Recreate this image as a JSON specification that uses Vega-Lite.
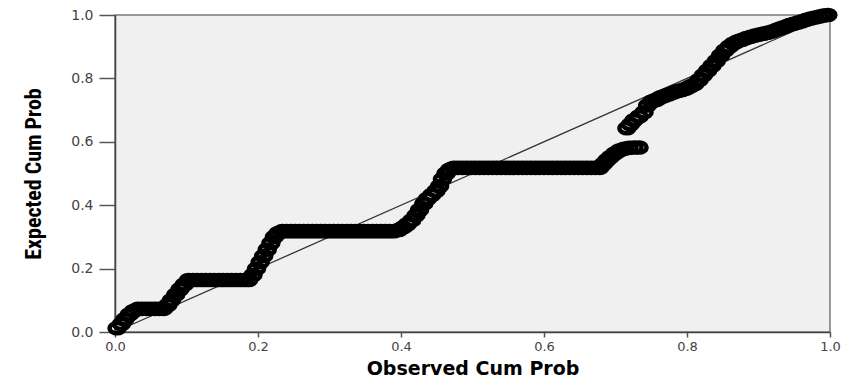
{
  "$schema": "https://vega.github.io/schema/vega-lite/v6.json",
  "width": 715,
  "height": 317,
  "autosize": {"type": "none"},
  "padding": {"left": 115, "top": 15, "right": 13, "bottom": 47},
  "background": "white",
  "config": {"view": {"fill": "#f0f0f0", "stroke": "#7a7a7a", "strokeWidth": 1.5}},
  "encoding": {
    "x": {"field": "x", "type": "quantitative", "scale": {"domain": [0, 1], "nice": false},
      "axis": {"title": "Observed Cum Prob", "values": [0, 0.2, 0.4, 0.6, 0.8, 1], "format": ".1f", "grid": false,
        "tickSize": 5, "tickColor": "#555", "tickWidth": 1.5, "domainColor": "#444", "domainWidth": 1.5,
        "labelFont": "DejaVu Sans", "labelFontSize": 13, "labelColor": "#444", "labelPadding": 3,
        "labelFlush": false, "labelOverlap": false, "labelBound": false,
        "titleFont": "DejaVu Sans", "titleFontWeight": "bold", "titleFontSize": 19, "titleColor": "#000",
        "titleBaseline": "alphabetic", "titleY": 42}},
    "y": {"field": "y", "type": "quantitative", "scale": {"domain": [0, 1], "nice": false},
      "axis": {"title": "Expected Cum Prob", "values": [0, 0.2, 0.4, 0.6, 0.8, 1], "format": ".1f", "grid": false,
        "tickSize": 16, "tickColor": "#555", "tickWidth": 1.5, "domainColor": "#444", "domainWidth": 1.5,
        "labelFont": "DejaVu Sans", "labelFontSize": 14, "labelColor": "#444", "labelPadding": 6,
        "labelFlush": false, "labelOverlap": false, "labelBound": false,
        "titleFont": "Liberation Sans Narrow, Roboto Condensed, Liberation Sans", "titleFontWeight": "bold", "titleFontSize": 22, "titleColor": "#000",
        "titleAngle": -90, "titleBaseline": "bottom", "titleX": -70}}
  },
  "layer": [
    {
      "data": {"values": [{"x": 0, "y": 0}, {"x": 1, "y": 1}]},
      "mark": {"type": "line", "color": "#333", "strokeWidth": 1.3}
    },
    {
      "data": {"values": [
        {"x": 0.003, "y": 0.012}, {"x": 0.009, "y": 0.025}, {"x": 0.014, "y": 0.04}, {"x": 0.02, "y": 0.055}, {"x": 0.026, "y": 0.066},
        {"x": 0.032, "y": 0.073}, {"x": 0.038, "y": 0.073}, {"x": 0.044, "y": 0.073}, {"x": 0.05, "y": 0.073}, {"x": 0.056, "y": 0.073}, {"x": 0.062, "y": 0.073}, {"x": 0.068, "y": 0.073},
        {"x": 0.074, "y": 0.085}, {"x": 0.079, "y": 0.1}, {"x": 0.085, "y": 0.118}, {"x": 0.091, "y": 0.135}, {"x": 0.097, "y": 0.15},
        {"x": 0.103, "y": 0.164}, {"x": 0.109, "y": 0.164}, {"x": 0.115, "y": 0.164}, {"x": 0.121, "y": 0.164}, {"x": 0.127, "y": 0.164}, {"x": 0.133, "y": 0.164}, {"x": 0.139, "y": 0.164}, {"x": 0.145, "y": 0.164}, {"x": 0.151, "y": 0.164}, {"x": 0.157, "y": 0.164}, {"x": 0.163, "y": 0.164}, {"x": 0.169, "y": 0.164}, {"x": 0.175, "y": 0.164}, {"x": 0.181, "y": 0.164}, {"x": 0.187, "y": 0.164},
        {"x": 0.193, "y": 0.18}, {"x": 0.198, "y": 0.2}, {"x": 0.203, "y": 0.22}, {"x": 0.208, "y": 0.24}, {"x": 0.213, "y": 0.26}, {"x": 0.218, "y": 0.28}, {"x": 0.223, "y": 0.3}, {"x": 0.228, "y": 0.312},
        {"x": 0.234, "y": 0.318}, {"x": 0.24, "y": 0.318}, {"x": 0.246, "y": 0.318}, {"x": 0.252, "y": 0.318}, {"x": 0.258, "y": 0.318}, {"x": 0.264, "y": 0.318}, {"x": 0.27, "y": 0.318}, {"x": 0.276, "y": 0.318}, {"x": 0.282, "y": 0.318}, {"x": 0.288, "y": 0.318}, {"x": 0.294, "y": 0.318}, {"x": 0.3, "y": 0.318}, {"x": 0.306, "y": 0.318}, {"x": 0.312, "y": 0.318}, {"x": 0.318, "y": 0.318}, {"x": 0.324, "y": 0.318}, {"x": 0.33, "y": 0.318}, {"x": 0.336, "y": 0.318}, {"x": 0.342, "y": 0.318}, {"x": 0.348, "y": 0.318}, {"x": 0.354, "y": 0.318}, {"x": 0.36, "y": 0.318}, {"x": 0.366, "y": 0.318}, {"x": 0.372, "y": 0.318}, {"x": 0.378, "y": 0.318}, {"x": 0.384, "y": 0.318}, {"x": 0.39, "y": 0.318},
        {"x": 0.397, "y": 0.322}, {"x": 0.403, "y": 0.33}, {"x": 0.409, "y": 0.34}, {"x": 0.415, "y": 0.352}, {"x": 0.421, "y": 0.368}, {"x": 0.426, "y": 0.385}, {"x": 0.432, "y": 0.405}, {"x": 0.437, "y": 0.42}, {"x": 0.443, "y": 0.432}, {"x": 0.449, "y": 0.445}, {"x": 0.454, "y": 0.46}, {"x": 0.458, "y": 0.482}, {"x": 0.463, "y": 0.5}, {"x": 0.468, "y": 0.512},
        {"x": 0.474, "y": 0.518}, {"x": 0.48, "y": 0.518}, {"x": 0.486, "y": 0.518}, {"x": 0.492, "y": 0.518}, {"x": 0.498, "y": 0.518}, {"x": 0.504, "y": 0.518}, {"x": 0.51, "y": 0.518}, {"x": 0.516, "y": 0.518}, {"x": 0.522, "y": 0.518}, {"x": 0.528, "y": 0.518}, {"x": 0.534, "y": 0.518}, {"x": 0.54, "y": 0.518}, {"x": 0.546, "y": 0.518}, {"x": 0.552, "y": 0.518}, {"x": 0.558, "y": 0.518}, {"x": 0.564, "y": 0.518}, {"x": 0.57, "y": 0.518}, {"x": 0.576, "y": 0.518}, {"x": 0.582, "y": 0.518}, {"x": 0.588, "y": 0.518}, {"x": 0.594, "y": 0.518}, {"x": 0.6, "y": 0.518}, {"x": 0.606, "y": 0.518}, {"x": 0.612, "y": 0.518}, {"x": 0.618, "y": 0.518}, {"x": 0.624, "y": 0.518}, {"x": 0.63, "y": 0.518}, {"x": 0.636, "y": 0.518}, {"x": 0.642, "y": 0.518}, {"x": 0.648, "y": 0.518}, {"x": 0.654, "y": 0.518}, {"x": 0.66, "y": 0.518}, {"x": 0.666, "y": 0.518}, {"x": 0.672, "y": 0.518}, {"x": 0.678, "y": 0.518},
        {"x": 0.683, "y": 0.53}, {"x": 0.688, "y": 0.542}, {"x": 0.693, "y": 0.552}, {"x": 0.699, "y": 0.563}, {"x": 0.705, "y": 0.572}, {"x": 0.712, "y": 0.578}, {"x": 0.719, "y": 0.581}, {"x": 0.726, "y": 0.582}, {"x": 0.733, "y": 0.582},
        {"x": 0.716, "y": 0.643}, {"x": 0.721, "y": 0.655}, {"x": 0.726, "y": 0.668}, {"x": 0.733, "y": 0.68}, {"x": 0.74, "y": 0.693},
        {"x": 0.745, "y": 0.715}, {"x": 0.751, "y": 0.727}, {"x": 0.757, "y": 0.732}, {"x": 0.763, "y": 0.74}, {"x": 0.769, "y": 0.745}, {"x": 0.775, "y": 0.75}, {"x": 0.781, "y": 0.755}, {"x": 0.787, "y": 0.76}, {"x": 0.793, "y": 0.763}, {"x": 0.799, "y": 0.768}, {"x": 0.805, "y": 0.775}, {"x": 0.811, "y": 0.782}, {"x": 0.817, "y": 0.795},
        {"x": 0.823, "y": 0.81}, {"x": 0.829, "y": 0.825}, {"x": 0.835, "y": 0.84}, {"x": 0.841, "y": 0.855}, {"x": 0.847, "y": 0.872}, {"x": 0.853, "y": 0.888}, {"x": 0.859, "y": 0.9}, {"x": 0.865, "y": 0.91}, {"x": 0.871, "y": 0.917}, {"x": 0.877, "y": 0.922}, {"x": 0.883, "y": 0.927}, {"x": 0.889, "y": 0.931}, {"x": 0.895, "y": 0.935}, {"x": 0.901, "y": 0.938}, {"x": 0.907, "y": 0.941}, {"x": 0.913, "y": 0.944}, {"x": 0.919, "y": 0.948}, {"x": 0.925, "y": 0.953}, {"x": 0.931, "y": 0.958}, {"x": 0.937, "y": 0.963}, {"x": 0.943, "y": 0.968}, {"x": 0.949, "y": 0.972}, {"x": 0.955, "y": 0.976}, {"x": 0.961, "y": 0.98}, {"x": 0.967, "y": 0.985}, {"x": 0.973, "y": 0.989}, {"x": 0.979, "y": 0.992}, {"x": 0.985, "y": 0.995}, {"x": 0.991, "y": 0.998}, {"x": 0.997, "y": 1.0}
      ]},
      "mark": {"type": "point", "shape": "M -1.15 0 A 1.15 0.78 0 1 1 1.15 0 A 1.15 0.78 0 1 1 -1.15 0 Z", "filled": false, "stroke": "#000", "strokeWidth": 4.5, "size": 170, "opacity": 1, "clip": false}
    }
  ]
}
